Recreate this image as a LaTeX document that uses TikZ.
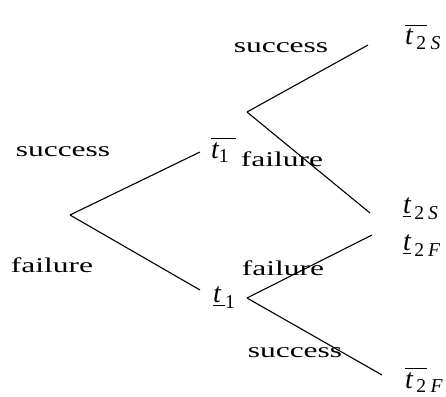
\documentclass[tikz,border=0pt]{standalone}
\usepackage{amsmath}
\usepackage{fontspec}
\setmainfont{Liberation Serif}
\usepackage{graphicx}
\usetikzlibrary{positioning}

\newcommand{\wideword}[1]{\scalebox{1.5}[1]{#1}}

\begin{document}
\begin{tikzpicture}[
    x=1pt,
    y=-1pt,
    branch/.style={draw=black, line width=1.1pt},
    outcome/.style={inner sep=0pt, font=\fontsize{21}{23}\selectfont},
    state/.style={inner sep=0pt, anchor=base west, font=\fontsize{28}{30}\selectfont}
]
\useasboundingbox (0,0) rectangle (446,396);

% Branch points
\coordinate (root) at (70,215);
\coordinate (up1) at (200,152);
\coordinate (lo1) at (200,290);
\coordinate (upv) at (247,112);
\coordinate (lov) at (247,298);
\coordinate (upup) at (368,45);
\coordinate (uplo) at (370,213);
\coordinate (loup) at (372,235);
\coordinate (lolo) at (382,375);

% Branches
\foreach \a/\b in {root/up1, root/lo1, upv/upup, upv/uplo, lov/loup, lov/lolo}
    \draw[branch] (\a) -- (\b);

% Outcome labels
\node[outcome] (s0) at (63,152) {\wideword{success}};
\node[outcome] (f0) at (52,265) {\wideword{failure}};
\node[outcome] (s1) at (281,48) {\wideword{success}};
\node[outcome] (f1) at (282,159) {\wideword{failure}};
\node[outcome] (f2) at (283,268) {\wideword{failure}};
\node[outcome] (s2) at (295,353) {\wideword{success}};

% State labels
\node[state] (t1bar) at (211,158) {$\overline{\textit{t}_{\textrm{1}}\;}$};
\node[state] (t1low) at (213,302) {$\underline{\textit{t}\,}_{\textrm{1}}$};
\node[state] (t2sbar) at (405,45) {$\overline{\textit{t}_{\,\textrm{2}}}{}_{\hspace{4pt}\textit{S}}$};
\node[state] (t2slow) at (403,213) {$\underline{\textit{t}}_{\,\textrm{2}\hspace{4pt}\textit{S}}$};
\node[state] (t2flow) at (403,250) {$\underline{\textit{t}}_{\,\textrm{2}\hspace{4pt}\textit{F}}$};
\node[state] (t2fbar) at (405,388) {$\overline{\textit{t}_{\,\textrm{2}}}{}_{\hspace{4pt}\textit{F}}$};

\end{tikzpicture}
\end{document}
